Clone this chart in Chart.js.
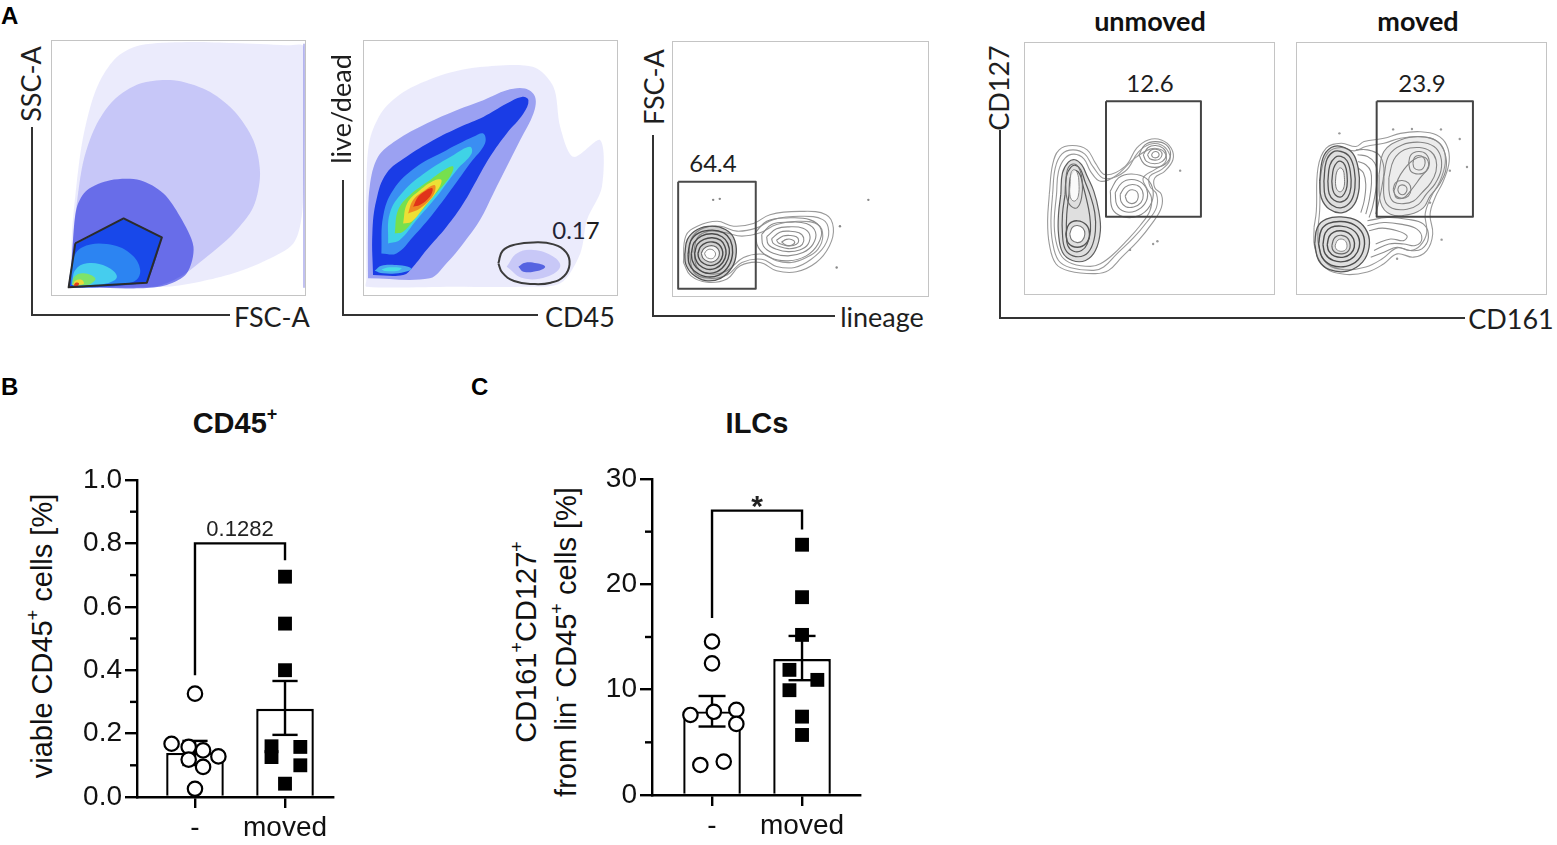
<!DOCTYPE html>
<html lang="en"><head><meta charset="utf-8"><title>Flow cytometry: CD45+ and ILCs</title>
<script src="https://cdn.jsdelivr.net/npm/chart.js@4.4.1/dist/chart.umd.min.js"></script>
<style>
html,body{margin:0;padding:0;background:#fff}
body{position:relative;width:1557px;height:845px;overflow:hidden}
.box{position:absolute;outline:1.5px solid #c4c4c4}
.box canvas,.bc canvas{display:block}
.bc{position:absolute}
.t{position:absolute;white-space:nowrap;line-height:1;transform:translate(-50%,-50%)}
.lato{font-family:Lato,sans-serif;font-size:27px;color:#1e1e1e}
.latob{font-family:Lato,sans-serif;font-size:27px;font-weight:bold;color:#111}
.rot{transform:translate(-50%,-50%) rotate(-90deg)}
.pan{position:absolute;font-family:'Liberation Sans',Arial,sans-serif;font-weight:bold;font-size:24px;color:#000;line-height:1}
.ttl{font-family:'Liberation Sans',Arial,sans-serif;font-weight:bold;font-size:29px;color:#111}
.ax{font-family:'Liberation Sans',Arial,sans-serif;font-size:29px;color:#111;text-align:center;line-height:1.38}
.sp{font-size:0.62em;position:relative;top:-0.72em}
.hl{position:absolute;background:#333;height:1.6px}
.vl{position:absolute;background:#333;width:1.6px}
</style></head><body>

<!-- Panel A -->
<div class="pan" style="left:1px;top:4px">A</div>
<div class="vl" style="left:31px;top:127px;height:189px"></div>
<div class="hl" style="left:31px;top:314px;width:199px"></div>
<div class="t lato rot" style="left:30px;top:84px">SSC-A</div>
<div class="t lato" style="left:272px;top:316px">FSC-A</div>
<div class="box" style="left:52px;top:41px;width:253px;height:254px"><canvas id="p1"></canvas></div>

<div class="vl" style="left:342px;top:180px;height:136px"></div>
<div class="hl" style="left:342px;top:314px;width:196px"></div>
<div class="t lato rot" style="left:340px;top:109px">live/dead</div>
<div class="t lato" style="left:580px;top:316px">CD45</div>
<div class="t lato" style="left:576px;top:230px;font-size:24px">0.17</div>
<div class="box" style="left:364px;top:41px;width:253px;height:254px"><canvas id="p2"></canvas></div>

<div class="vl" style="left:652px;top:135px;height:182px"></div>
<div class="hl" style="left:652px;top:315px;width:183px"></div>
<div class="t lato rot" style="left:653px;top:87px">FSC-A</div>
<div class="t lato" style="left:882px;top:316px">lineage</div>
<div class="t lato" style="left:713px;top:163px;font-size:24px">64.4</div>
<div class="box" style="left:673px;top:42px;width:255px;height:254px"><canvas id="p3"></canvas></div>

<div class="vl" style="left:999px;top:130px;height:189px"></div>
<div class="hl" style="left:999px;top:317px;width:466px"></div>
<div class="t lato rot" style="left:998px;top:88px">CD127</div>
<div class="t lato" style="left:1511px;top:318px">CD161</div>
<div class="t latob" style="left:1150px;top:20px">unmoved</div>
<div class="t latob" style="left:1418px;top:20px">moved</div>
<div class="t lato" style="left:1150px;top:83px;font-size:24px">12.6</div>
<div class="t lato" style="left:1422px;top:83px;font-size:24px">23.9</div>
<div class="box" style="left:1025px;top:43px;width:249px;height:251px"><canvas id="p4"></canvas></div>
<div class="box" style="left:1297px;top:43px;width:249px;height:251px"><canvas id="p5"></canvas></div>

<!-- Panel B -->
<div class="pan" style="left:1px;top:375px">B</div>
<div class="t ttl" style="left:235px;top:423px">CD45<span class="sp">+</span></div>
<div class="t ax rot" style="left:42px;top:636px">viable CD45<span class="sp">+</span> cells [%]</div>
<div class="bc" style="left:60px;top:440px;width:285px;height:405px"><canvas id="cB"></canvas></div>

<!-- Panel C -->
<div class="pan" style="left:471px;top:375px">C</div>
<div class="t ttl" style="left:757px;top:423px">ILCs</div>
<div class="t ax rot" style="left:546px;top:642px">CD161<span class="sp">+</span>CD127<span class="sp">+</span><br>from lin<span class="sp">-</span> CD45<span class="sp">+</span> cells [%]</div>
<div class="bc" style="left:590px;top:440px;width:280px;height:405px"><canvas id="cC"></canvas></div>

<script>
// ===================== DATA: panel B (CD45+) =====================
const groups = ['-', 'moved'];
const cd45Means = [0.139, 0.278];
const cd45ErrLow = [0.101, 0.196];
const cd45ErrHigh = [0.177, 0.366];
const cd45Unmoved = [0.326, 0.168, 0.158, 0.147, 0.128, 0.118, 0.095, 0.026];
const cd45UnmovedJitter = [0, -0.26, -0.07, 0.09, 0.26, -0.07, 0.09, 0];
const cd45Moved = [0.695, 0.547, 0.400, 0.160, 0.158, 0.126, 0.100, 0.042];
const cd45MovedJitter = [0, 0, 0, -0.15, 0.17, -0.15, 0.17, 0];
const cd45Bracket = [0.384, 0.800, 0.747];
const cd45PValue = '0.1282';
const cd45Ticks = [0, 0.2, 0.4, 0.6, 0.8, 1.0];
const cd45MinorTicks = [0.1, 0.3, 0.5, 0.7, 0.9];

// ===================== DATA: panel C (ILCs) =====================
const ilcMeans = [7.93, 12.9];
const ilcErrLow = [6.5, 10.9];
const ilcErrHigh = [9.4, 15.1];
const ilcUnmoved = [14.57, 12.5, 7.6, 7.9, 8.08, 6.75, 2.85, 3.17];
const ilcUnmovedJitter = [0, 0, -0.24, 0.02, 0.27, 0.27, -0.13, 0.13];
const ilcMoved = [23.76, 18.78, 15.2, 11.88, 10.93, 9.95, 7.44, 5.7];
const ilcMovedJitter = [0, 0, 0, -0.14, 0.17, -0.14, 0, 0];
const ilcBracket = [16.8, 27.0, 25.2];
const ilcPValue = '*';
const ilcTicks = [0, 10, 20, 30];
const ilcMinorTicks = [5, 15, 25];

// ===================== DATA: panel A (gating, arbitrary channel units) =====================
// 1) FSC-A (x) vs SSC-A (y)
const fscSscSparse = [[210,862],[215,700],[228,560],[245,430],[270,320],[300,240],[350,170],[420,135],[560,125],[700,128],[860,135],[912,140],[912,500],[905,650],[880,730],[800,780],[700,820],[600,845],[500,860]];
const fscSscMid = [[212,860],[220,700],[232,590],[250,480],[285,380],[340,300],[420,250],[520,240],[620,270],[700,330],[760,420],[780,520],[760,620],[700,700],[620,770],[540,830],[460,860]];
const fscSscDense = [[210,860],[218,720],[230,620],[260,570],[330,540],[420,540],[490,580],[540,650],[580,740],[560,820],[500,855],[420,865]];
const fscSscCore = [[226,733],[370,658],[482,713],[439,846],[207,861]];
const fscSscLevels = [
  [[212,855],[218,780],[245,742],[320,732],[390,760],[420,810],[400,845],[300,855]],
  [[215,852],[225,810],[260,790],[320,800],[350,830],[320,850],[250,855]],
  [[215,855],[222,830],[250,820],[285,835],[270,852],[235,857]],
  [[218,856],[225,842],[245,840],[250,852]],
  [[220,857],[226,848],[236,850],[232,858]]
];
const fscSscEdge = [[912,132],[912,862]];
const fscSscGate = [[225,730],[370,655],[485,712],[440,848],[205,862]];

// 2) CD45 (x) vs live/dead (y)
const ldSparse = [[140,840],[140,560],[150,420],[190,330],[260,270],[380,220],[480,200],[640,200],[700,260],[720,380],[760,470],[840,420],[845,560],[800,660],[780,760],[720,850],[600,860],[400,860],[140,860]];
const ldOuter = [[145,835],[145,690],[150,560],[175,470],[230,420],[320,370],[410,330],[490,300],[560,270],[615,265],[645,290],[640,340],[600,420],[560,500],[520,580],[480,660],[430,730],[380,790],[330,835]];
const ldLevels = [
  [[160,825],[158,700],[170,600],[200,520],[260,470],[340,420],[420,380],[490,350],[560,310],[605,290],[625,300],[610,340],[560,400],[510,470],[470,540],[430,610],[380,680],[320,750],[280,800],[250,825]],
  [[185,760],[190,650],[220,570],[290,500],[380,450],[460,410],[490,400],[495,430],[450,490],[400,560],[340,640],[280,710],[230,760]],
  [[205,730],[210,640],[250,575],[320,515],[400,465],[450,440],[455,460],[410,510],[350,590],[290,660],[240,720]],
  [[225,700],[235,630],[270,585],[330,540],[380,505],[400,500],[390,530],[340,590],[290,650],[250,695]],
  [[250,670],[262,610],[300,570],[345,540],[365,540],[350,575],[310,625],[275,665]],
  [[265,640],[280,600],[315,570],[345,555],[340,585],[300,625]],
  [[280,620],[295,590],[320,570],[338,565],[330,590],[300,615]]
];
const ldDebris = [[165,812],[185,797],[230,795],[265,800],[275,808],[245,818],[190,820]];
const ldDebrisCore = [[185,808],[210,802],[245,804],[235,812],[195,813]];
const ldCd45Sparse = [[560,800],[590,760],[640,750],[700,770],[720,800],[680,830],[610,835]];
const ldCd45Dense = [[595,800],[615,788],[650,790],[675,800],[655,812],[610,815]];
const ldGate = [[535,790],[548,752],[588,733],[640,727],[700,733],[738,757],[748,793],[732,828],[692,848],[640,852],[582,843],[547,818]];

// 3) lineage (x) vs FSC-A (y)
const linEnvelope = [
  [[158,790],[165,710],[200,680],[260,665],[310,680],[370,672],[420,645],[510,635],[590,645],[612,685],[600,740],[560,790],[500,818],[440,815],[390,790],[330,800],[290,840],[230,850],[180,830]],
  [[175,750],[185,712],[220,685],[270,680],[320,695],[380,685],[430,660],[510,650],[580,660],[598,695],[585,740],[545,780],[495,805],[440,802],[395,780],[335,790],[290,828],[235,838],[190,820]],
  [[190,755],[200,715],[235,695],[285,700],[335,710],[390,700],[440,675],[505,665],[565,675],[580,710],[565,750],[530,775],[485,790],[440,785],[400,765],[340,775],[290,815],[240,825],[200,805]]
];
const linNeg = [
  [[162,765],[170,720],[200,690],[245,680],[285,690],[310,715],[318,760],[305,805],[270,838],[225,845],[185,825],[165,795]],
  [[172,765],[180,725],[205,700],[245,692],[280,700],[300,722],[307,760],[295,800],[265,828],[225,833],[190,815],[175,793]],
  [[182,763],[190,730],[212,710],[245,703],[275,712],[292,732],[297,762],[285,795],[260,818],[226,822],[197,805],[185,785]],
  [[192,762],[200,735],[220,720],[245,715],[270,722],[283,740],[287,764],[277,790],[255,808],[228,810],[205,797],[195,780]],
  [[202,762],[210,742],[228,730],[247,728],[265,735],[275,750],[277,767],[268,787],[250,798],[230,798],[212,788],[204,775]],
  [[212,762],[220,748],[235,740],[250,740],[262,748],[267,762],[262,778],[248,788],[232,787],[218,778]],
  [[222,762],[230,752],[242,750],[252,756],[255,767],[248,777],[236,778],[226,772]]
];
const linPos = [
  [[375,700],[410,665],[470,655],[540,660],[575,690],[565,735],[530,770],[475,785],[420,775],[385,745]],
  [[395,705],[425,675],[475,668],[530,672],[558,698],[550,735],[520,760],[475,770],[430,762],[400,740]],
  [[410,712],[440,688],[478,682],[520,686],[540,705],[535,735],[510,752],[475,757],[440,750],[415,735]],
  [[425,718],[450,698],[478,695],[508,700],[522,715],[518,735],[500,745],[475,748],[450,742],[430,732]],
  [[440,722],[460,710],[480,708],[500,712],[507,724],[500,735],[480,740],[460,736],[445,730]],
  [[455,728],[470,720],[485,720],[495,728],[487,737],[470,738]]
];
const linDots = [[248,600],[268,597],[718,600],[632,680],[622,805]];
const linGate = [[142,545],[377,545],[377,870],[142,870]];

// 4) CD161 (x) vs CD127 (y), unmoved
const unEnvelope = [
  [[100,480],[110,390],[130,345],[170,332],[215,345],[240,385],[270,420],[330,395],[365,340],[400,315],[440,315],[470,340],[475,375],[450,410],[420,430],[420,460],[440,480],[440,520],[410,570],[370,620],[320,670],[280,710],[240,720],[160,712],[120,690],[100,630],[95,560]],
  [[110,480],[118,400],[138,358],[172,345],[208,358],[232,395],[268,432],[330,410],[370,352],[405,328],[440,330],[462,352],[465,378],[440,405],[405,425],[405,455],[425,478],[425,520],[395,565],[355,612],[305,660],[265,700],[235,710],[165,702],[128,680],[110,625],[105,560]],
  [[122,480],[128,410],[148,370],[175,358],[205,372],[225,410],[255,440],[300,425],[360,370],[408,342],[440,345],[455,365],[450,385],[420,405],[385,430],[395,460],[410,490],[405,530],[375,575],[335,620],[290,665],[255,690],[225,698],[170,690],[138,668],[120,620],[115,560]]
];
const unLeft = [
  [[135,480],[140,415],[158,382],[178,375],[198,390],[215,425],[235,470],[250,530],[255,590],[240,650],[210,680],[170,680],[140,655],[128,600],[128,540]],
  [[148,480],[152,425],[165,398],[180,392],[195,405],[208,440],[225,485],[238,535],[240,590],[228,640],[205,665],[172,666],[148,645],[140,600],[140,540]],
  [[160,480],[163,432],[172,412],[182,408],[193,420],[202,452],[213,495],[222,540],[225,590],[215,630],[198,650],[174,652],[156,635],[152,600],[153,540]],
  [[150,600],[160,570],[185,560],[212,572],[222,600],[212,628],[185,640],[158,628]],
  [[162,600],[170,580],[185,574],[202,582],[208,600],[200,620],[185,626],[168,618]],
  [[150,450],[155,405],[172,388],[190,400],[200,440],[198,490],[185,520],[165,515],[153,490]],
  [[163,450],[166,415],[175,405],[185,415],[190,445],[188,485],[178,500],[167,495],[162,475]]
];
const unRight = [
  [[285,470],[310,430],[350,418],[395,432],[415,470],[405,515],[370,545],[325,548],[292,525]],
  [[300,475],[320,445],[350,435],[382,446],[398,475],[390,508],[362,530],[328,532],[305,512]],
  [[315,480],[330,458],[352,450],[375,458],[385,482],[378,505],[356,518],[332,517],[318,502]],
  [[330,485],[340,470],[352,466],[366,472],[370,488],[363,503],[350,508],[337,502]],
  [[372,360],[390,330],[422,320],[455,330],[468,360],[452,388],[420,398],[388,388]],
  [[385,360],[400,338],[422,332],[445,340],[455,360],[443,380],[420,387],[395,380]],
  [[398,360],[408,346],[422,343],[437,348],[442,360],[434,373],[420,376],[405,372]],
  [[410,360],[416,352],[424,350],[432,355],[432,364],[424,369],[414,367]]
];
const unDots = [[497,408],[415,630],[428,622],[345,648]];
const unGate = [[272,198],[560,198],[560,548],[272,548]];

// 5) CD161 (x) vs CD127 (y), moved
const mvEnvelope = [
  [[78,580],[85,530],[90,400],[115,340],[160,325],[205,335],[230,320],[290,310],[340,295],[400,290],[450,300],[480,330],[488,380],[470,440],[445,490],[430,540],[438,600],[420,650],[380,670],[330,660],[290,690],[240,715],[170,722],[110,700],[80,640]],
  [[90,580],[95,530],[100,410],[122,352],[160,338],[200,348],[235,335],[290,325],[340,310],[400,305],[445,315],[470,340],[476,385],[460,440],[432,490],[415,540],[420,595],[400,635],[370,650],[330,642],[285,675],[235,700],[170,708],[118,690],[92,635]]
];
const mvLeft = [
  [[95,440],[105,370],[130,338],[162,335],[195,355],[212,400],[215,460],[200,510],[165,535],[125,525],[100,490]],
  [[108,440],[115,380],[135,352],[160,350],[185,365],[200,405],[202,460],[190,500],[162,520],[132,512],[112,485]],
  [[120,440],[126,392],[142,368],[160,365],[178,378],[188,410],[190,458],[180,490],[160,503],[138,497],[124,478]],
  [[132,440],[137,402],[148,383],[160,380],[172,392],[178,418],[178,455],[170,478],[158,488],[143,482],[135,466]],
  [[143,440],[146,415],[153,402],[160,400],[167,408],[170,428],[170,452],[164,468],[156,472],[148,466],[144,455]],
  [[80,630],[88,580],[115,555],[160,548],[210,560],[240,595],[245,640],[225,685],[180,712],[125,708],[92,680]],
  [[92,630],[100,588],[122,568],[160,562],[200,572],[226,600],[230,640],[212,678],[175,698],[130,694],[102,670]],
  [[105,632],[112,597],[130,580],[160,576],[190,584],[212,607],[215,640],[200,668],[172,683],[136,680],[112,660]],
  [[118,633],[124,607],[138,594],[160,590],[183,597],[198,615],[200,640],[189,660],[168,670],[140,667],[123,652]],
  [[132,635],[138,615],[148,606],[162,604],[177,610],[186,624],[187,642],[178,655],[163,660],[145,657],[135,648]],
  [[142,636],[147,622],[155,616],[165,616],[174,622],[178,634],[175,646],[166,652],[153,651],[145,645]]
];
const mvRight = [
  [[275,420],[290,350],[340,315],[400,305],[450,318],[475,355],[478,405],[458,450],[430,485],[410,520],[370,540],[310,540],[280,505]],
  [[290,425],[305,362],[345,330],[400,322],[442,335],[462,365],[463,408],[445,448],[418,480],[395,510],[360,525],[315,522],[292,495]],
  [[305,430],[320,375],[352,345],[398,338],[432,350],[448,375],[448,410],[432,445],[405,475],[380,500],[350,508],[320,503],[307,480]],
  [[320,470],[340,420],[380,375],[415,368],[425,395],[400,430],[370,470],[350,490],[328,490]],
  [[365,385],[372,360],[395,350],[418,358],[428,385],[418,410],[395,418],[372,410]],
  [[378,385],[383,368],[395,362],[410,368],[415,385],[408,402],[395,406],[382,400]],
  [[318,465],[325,445],[345,438],[365,446],[372,466],[364,485],[345,492],[326,484]],
  [[332,466],[336,455],[346,451],[357,456],[360,467],[354,478],[345,481],[336,476]]
];
const mvBridge = [
  [[205,345],[240,345],[275,360],[290,400],[285,450],[275,500],[265,540]],
  [[210,360],[240,365],[262,385],[270,420],[265,470],[255,520],[245,550]],
  [[212,380],[235,390],[250,410],[252,450],[245,500],[235,540]],
  [[212,400],[228,415],[235,450],[230,500],[220,535]],
  [[240,560],[300,550],[360,555],[410,570],[425,610],[405,645],[370,650],[330,640],[290,655],[250,670]],
  [[240,575],[290,565],[340,570],[390,585],[405,615],[385,635],[350,630],[305,630],[260,650]],
  [[245,590],[285,582],[330,590],[360,605],[350,620],[310,615],[265,630]]
];
const mvDots = [[155,295],[318,283],[375,282],[463,283],[520,312],[542,397],[490,408],[465,617],[430,505],[330,675]];
const mvGate = [[268,198],[560,198],[560,548],[268,548]];

// ===================== helpers =====================
const polyFill = {
  id: 'polyFill',
  beforeDatasetDraw(chart, args) {
    const ds = chart.data.datasets[args.index];
    if (!ds.polyColor) return;
    const line = args.meta.dataset;
    const ctx = chart.ctx, a = chart.chartArea;
    ctx.save();
    ctx.beginPath(); ctx.rect(a.left, a.top, a.right - a.left, a.bottom - a.top); ctx.clip();
    ctx.beginPath();
    if (line && typeof line.path === 'function') {
      if (typeof line.updateControlPoints === 'function') line.updateControlPoints(a, 'x');
      line.path(ctx);
    } else {
      args.meta.data.forEach((p, i) => i ? ctx.lineTo(p.x, p.y) : ctx.moveTo(p.x, p.y));
    }
    ctx.closePath();
    ctx.fillStyle = ds.polyColor;
    ctx.fill();
    ctx.restore();
  }
};

function shape(pts, st, closed = true) {
  const p = closed ? pts.concat([pts[0]]) : pts;
  return {
    type: 'scatter', showLine: true,
    data: p.map(([x, y]) => ({x, y})),
    pointRadius: 0, pointHoverRadius: 0,
    borderColor: st.stroke || 'rgba(0,0,0,0)',
    borderWidth: st.stroke ? (st.w || 1) : 0,
    polyColor: st.fill || null,
    tension: st.t === undefined ? 0.4 : st.t,
    borderJoinStyle: 'round'
  };
}
function dots(pts, color, r) {
  return {type: 'scatter', showLine: false, data: pts.map(([x, y]) => ({x, y})),
    pointRadius: r, pointHoverRadius: r, pointBackgroundColor: color, pointBorderWidth: 0};
}
function flowChart(id, xr, yr, datasets) {
  datasets.forEach((d, i) => { d.order = datasets.length - i; });
  return new Chart(document.getElementById(id), {
    type: 'scatter',
    data: {datasets},
    options: {
      responsive: true, maintainAspectRatio: false, animation: false, events: [],
      layout: {padding: 0},
      plugins: {legend: {display: false}, tooltip: {enabled: false}},
      scales: {
        x: {type: 'linear', min: xr[0], max: xr[1], display: false},
        y: {type: 'linear', min: yr[0], max: yr[1], reverse: true, display: false}
      }
    },
    plugins: [polyFill]
  });
}

// ---- plot 1
flowChart('p1', [155, 915], [122, 885], [
  shape(fscSscSparse, {fill: 'rgba(70,70,230,0.11)', t: 0.3}),
  shape(fscSscMid, {fill: 'rgba(55,55,228,0.2)', t: 0.3}),
  shape(fscSscDense, {fill: 'rgba(28,36,222,0.55)', t: 0.3}),
  shape(fscSscCore, {fill: '#1848ea', t: 0.1}),
  shape(fscSscLevels[0], {fill: '#2c84f2', t: 0.4}),
  shape(fscSscLevels[1], {fill: '#45cdee', t: 0.4}),
  shape(fscSscLevels[2], {fill: '#7ee36a', t: 0.4}),
  shape(fscSscLevels[3], {fill: '#ecd93a', t: 0.4}),
  shape(fscSscLevels[4], {fill: '#e2401c', t: 0.4}),
  shape(fscSscEdge, {stroke: 'rgba(70,70,210,0.45)', w: 1.5, t: 0}, false),
  shape(fscSscGate, {stroke: '#2b2b2b', w: 2, t: 0})
]);

// ---- plot 2
const ldColors = ['#1a3ce6', '#3a8ef3', '#3fd3e6', '#76e04e', '#ece035', '#f08a22', '#e0341a'];
flowChart('p2', [133, 890], [122, 885], [
  shape(ldSparse, {fill: 'rgba(70,70,230,0.11)', t: 0.3}),
  shape(ldOuter, {fill: 'rgba(35,50,225,0.4)', t: 0.35}),
  ...ldLevels.map((L, i) => shape(L, {fill: ldColors[i], t: 0.4})),
  shape(ldDebris, {fill: '#4aa9ef', t: 0.4}),
  shape(ldDebrisCore, {fill: '#49dde6', t: 0.4}),
  shape(ldCd45Sparse, {fill: 'rgba(60,60,225,0.2)', t: 0.4}),
  shape(ldCd45Dense, {fill: 'rgba(35,55,215,0.7)', t: 0.4}),
  shape(ldGate, {stroke: '#3c3c3c', w: 2, t: 0.45})
]);

// ---- plot 3
flowChart('p3', [130, 895], [125, 888], [
  ...linEnvelope.map(L => shape(L, {stroke: '#9a9a9a', w: 1.1})),
  ...linPos.map(L => shape(L, {stroke: '#8c8c8c', w: 1.1})),
  shape(linNeg[0], {fill: 'rgba(90,90,90,0.28)', stroke: '#555', w: 1.3}),
  ...linNeg.slice(1, 5).map(L => shape(L, {stroke: '#4a4a4a', w: 1.4})),
  shape(linNeg[5], {fill: 'rgba(255,255,255,0.85)', stroke: '#666', w: 1.1}),
  shape(linNeg[6], {fill: '#fff', stroke: '#888', w: 1}),
  dots(linDots, '#888', 1.2),
  shape(linGate, {stroke: '#4a4a4a', w: 2, t: 0})
]);

// ---- plot 4
flowChart('p4', [30, 778], [25, 778], [
  ...unEnvelope.map(L => shape(L, {stroke: '#9a9a9a', w: 1.1})),
  shape(unLeft[0], {fill: 'rgba(110,110,110,0.22)', stroke: '#606060', w: 1.2}),
  ...unLeft.slice(1, 3).map(L => shape(L, {stroke: '#5a5a5a', w: 1.2})),
  shape(unLeft[3], {stroke: '#555', w: 1.4}),
  shape(unLeft[4], {fill: '#fff', stroke: '#777', w: 1.1}),
  shape(unLeft[5], {stroke: '#707070', w: 1.1}),
  shape(unLeft[6], {fill: 'rgba(255,255,255,0.85)', stroke: '#8a8a8a', w: 1}),
  ...unRight.map(L => shape(L, {stroke: '#8c8c8c', w: 1.1})),
  dots(unDots, '#999', 1.2),
  shape(unGate, {stroke: '#444', w: 2, t: 0})
]);

// ---- plot 5
flowChart('p5', [30, 778], [25, 778], [
  ...mvEnvelope.map(L => shape(L, {stroke: '#9a9a9a', w: 1.1})),
  ...mvBridge.map(L => shape(L, {stroke: '#8f8f8f', w: 1.1}, false)),
  shape(mvLeft[0], {fill: 'rgba(110,110,110,0.22)', stroke: '#5a5a5a', w: 1.3}),
  ...mvLeft.slice(1, 4).map(L => shape(L, {stroke: '#555', w: 1.3})),
  shape(mvLeft[4], {fill: 'rgba(255,255,255,0.8)', stroke: '#777', w: 1}),
  shape(mvLeft[5], {fill: 'rgba(110,110,110,0.22)', stroke: '#555', w: 1.3}),
  ...mvLeft.slice(6, 9).map(L => shape(L, {stroke: '#4c4c4c', w: 1.4})),
  shape(mvLeft[9], {stroke: '#666', w: 1.2}),
  shape(mvLeft[10], {fill: '#fff', stroke: '#888', w: 1}),
  shape(mvRight[0], {fill: 'rgba(130,130,130,0.15)', stroke: '#8a8a8a', w: 1.1}),
  ...mvRight.slice(1).map(L => shape(L, {stroke: '#858585', w: 1.1})),
  dots(mvDots, '#999', 1.2),
  shape(mvGate, {stroke: '#444', w: 2, t: 0})
]);

// ===================== bar panels =====================
const annot = {
  id: 'annot',
  afterDatasetsDraw(chart, args, o) {
    const {ctx, chartArea, scales: {x, y}} = chart;
    ctx.save();
    ctx.strokeStyle = '#000';
    ctx.lineWidth = 2.4;
    o.minor.forEach(v => {
      const py = y.getPixelForValue(v);
      ctx.beginPath(); ctx.moveTo(chartArea.left - 7, py); ctx.lineTo(chartArea.left, py); ctx.stroke();
    });
    ctx.fillStyle = o.color;
    ctx.font = o.font;
    ctx.textAlign = 'center';
    ctx.textBaseline = o.baseline;
    ctx.fillText(o.text, x.getPixelForValue(0.5), y.getPixelForValue(o.ty));
    ctx.restore();
  }
};

function barPanel(id, o) {
  const ds = [];
  ds.push({type: 'scatter', data: o.a.map((v, i) => ({x: 0 + o.ja[i], y: v})), pointStyle: 'circle',
    pointRadius: 7.2, pointHoverRadius: 7.2, pointBorderWidth: 2.2, pointBackgroundColor: '#fff', pointBorderColor: '#000', order: 0});
  ds.push({type: 'scatter', data: o.b.map((v, i) => ({x: 1 + o.jb[i], y: v})), pointStyle: 'rect',
    pointRadius: 9.8, pointHoverRadius: 9.8, pointBorderWidth: 0, pointBackgroundColor: '#000', pointBorderColor: '#000', order: 0});
  const seg = pts => ds.push({type: 'line', data: pts, borderColor: '#000', borderWidth: 2.4, pointRadius: 0, tension: 0, order: 1, borderCapStyle: 'butt'});
  o.means.forEach((m, i) => {
    seg([{x: i, y: o.lo[i]}, {x: i, y: o.hi[i]}]);
    seg([{x: i - o.cap, y: o.hi[i]}, {x: i + o.cap, y: o.hi[i]}]);
    seg([{x: i - o.cap, y: o.lo[i]}, {x: i + o.cap, y: o.lo[i]}]);
  });
  seg([{x: 0, y: o.br[0]}, {x: 0, y: o.br[1]}, {x: 1, y: o.br[1]}, {x: 1, y: o.br[2]}]);
  ds.push({type: 'bar', data: o.means.map((m, i) => ({x: i, y: m})), backgroundColor: '#fff', borderColor: '#000',
    borderWidth: 2.4, borderSkipped: 'bottom', barPercentage: 0.64, categoryPercentage: 1, order: 5});

  const tickFont = {family: "'Liberation Sans', Arial, sans-serif", size: 28};
  return new Chart(document.getElementById(id), {
    type: 'bar',
    data: {datasets: ds},
    options: {
      responsive: true, maintainAspectRatio: false, animation: false, events: [],
      layout: {padding: {top: o.padTop, right: o.padRight, left: 0, bottom: 0}},
      plugins: {legend: {display: false}, tooltip: {enabled: false},
        annot: {minor: o.minor, text: o.pText, ty: o.pY, font: o.pFont, baseline: o.pBase, color: '#222'}},
      scales: {
        x: {type: 'linear', min: o.xMin, max: o.xMax, offset: false,
          afterBuildTicks: s => { s.ticks = groups.map((g, i) => ({value: i})); },
          afterFit: s => { s.height = o.xH; },
          ticks: {callback: v => groups[v] !== undefined ? groups[v] : '', font: tickFont, color: '#111', padding: 3, maxRotation: 0, autoSkip: false},
          grid: {display: true, offset: false, drawOnChartArea: false, drawTicks: true, tickLength: 11, tickColor: '#000', tickWidth: 2.4, lineWidth: 2.4},
          border: {display: true, color: '#000', width: 2.4}},
        y: {type: 'linear', min: 0, max: o.yMax,
          afterBuildTicks: s => { s.ticks = o.ticks.map(v => ({value: v})); },
          afterFit: s => { s.width = o.yW; },
          ticks: {callback: v => v.toFixed(o.dec), font: tickFont, color: '#111', padding: 3},
          grid: {display: true, drawOnChartArea: false, drawTicks: true, tickLength: 12, tickColor: '#000', tickWidth: 2.4, lineWidth: 2.4},
          border: {display: true, color: '#000', width: 2.4}}
      }
    },
    plugins: [annot]
  });
}

barPanel('cB', {
  means: cd45Means, lo: cd45ErrLow, hi: cd45ErrHigh,
  a: cd45Unmoved, ja: cd45UnmovedJitter, b: cd45Moved, jb: cd45MovedJitter,
  br: cd45Bracket, pText: cd45PValue, pY: 0.842, pFont: "22px 'Liberation Sans', Arial, sans-serif", pBase: 'middle',
  ticks: cd45Ticks, minor: cd45MinorTicks, yMax: 1.0, dec: 1,
  xMin: -0.644, xMax: 1.533, yW: 77, xH: 48, padTop: 40, padRight: 12, cap: 0.14
});
barPanel('cC', {
  means: ilcMeans, lo: ilcErrLow, hi: ilcErrHigh,
  a: ilcUnmoved, ja: ilcUnmovedJitter, b: ilcMoved, jb: ilcMovedJitter,
  br: ilcBracket, pText: ilcPValue, pY: 26.5, pFont: "bold 30px 'Liberation Sans', Arial, sans-serif", pBase: 'alphabetic',
  ticks: ilcTicks, minor: ilcMinorTicks, yMax: 30, dec: 0,
  xMin: -0.667, xMax: 1.644, yW: 62, xH: 50, padTop: 39, padRight: 10, cap: 0.15
});
</script>
</body></html>
